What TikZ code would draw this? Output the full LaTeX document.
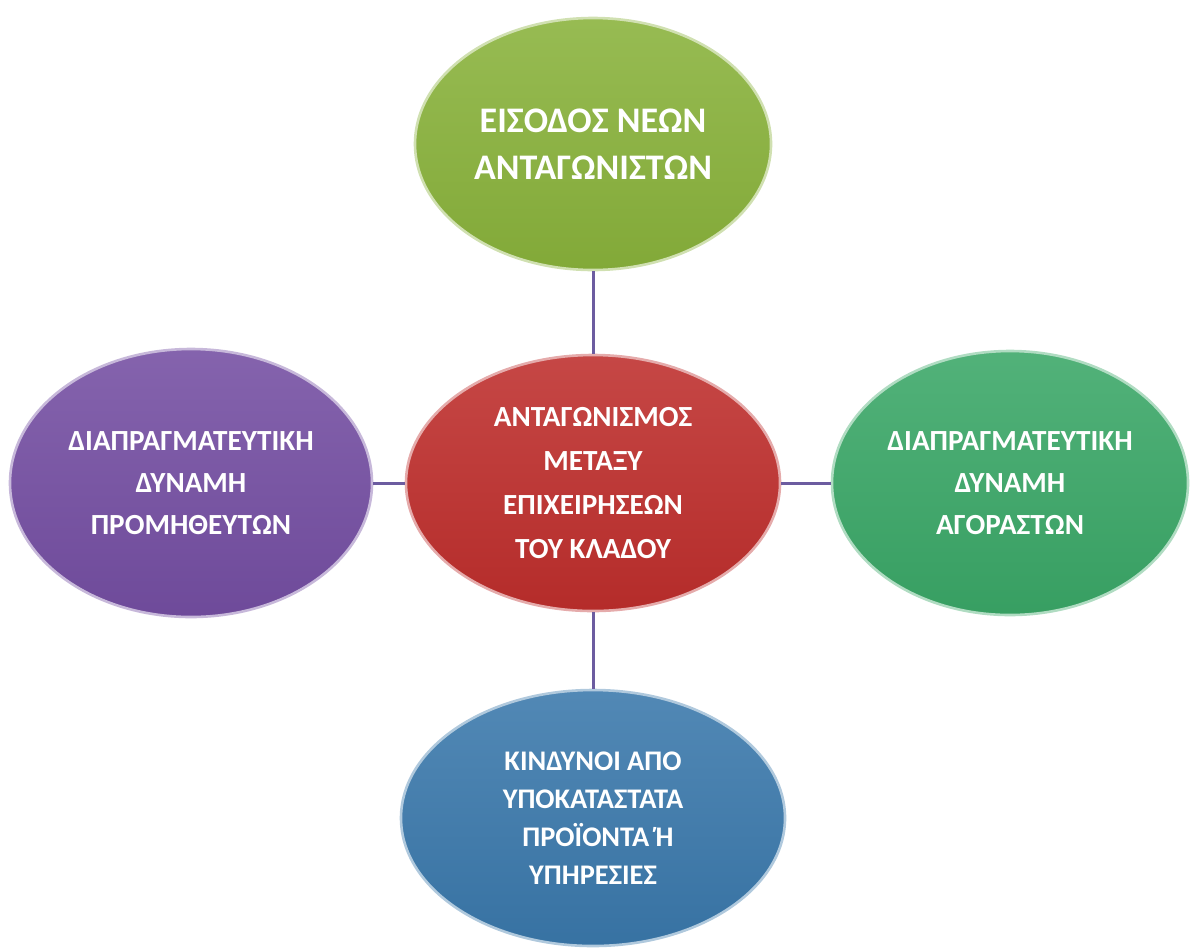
\documentclass[tikz,border=0pt]{standalone}
\usepackage{fontspec}
\setmainfont{Carlito}
\usetikzlibrary{shapes.geometric, positioning}
\definecolor{entrygreen}{HTML}{89B23B}
\definecolor{rivalred}{HTML}{BE2E2C}
\definecolor{supplypurple}{HTML}{744EA2}
\definecolor{buyergreen}{HTML}{3AA767}
\definecolor{substblue}{HTML}{3A78AB}
\definecolor{linkpurple}{HTML}{6C5CA0}
\tikzstyle{force}=[ellipse,shade,text=white,align=center,line width=1.3pt,inner sep=0pt,font=\bfseries\fontsize{14.6}{21}\selectfont]
\tikzstyle{link}=[draw=linkpurple,line width=1.5pt]
\tikzset{paint/.style={top color=#1!88!white,bottom color=#1!95!black,draw=#1!40!white}}

\begin{document}
\begin{tikzpicture}[node distance=170pt]
    \useasboundingbox (0,0) rectangle (596pt,-474.5pt);
    \node[force, paint=rivalred, minimum width=187pt, minimum height=128pt, font=\bfseries\fontsize{14.6}{22}\selectfont] (rivalry) at (296.5pt,-241.5pt) {ΑΝΤΑΓΩΝΙΣΜΟΣ\\ΜΕΤΑΞΥ\\ΕΠΙΧΕΙΡΗΣΕΩΝ\\ΤΟΥ ΚΛΑΔΟΥ};
    \node[force, paint=entrygreen, above of=rivalry, node distance=169.5pt, minimum width=178pt, minimum height=126pt, font=\bfseries\fontsize{18}{23.5}\selectfont] (entrants) {ΕΙΣΟΔΟΣ ΝΕΩΝ\\ΑΝΤΑΓΩΝΙΣΤΩΝ};
    \node[force, paint=supplypurple, left of=rivalry, node distance=201pt, minimum width=181pt, minimum height=134pt] (suppliers) {ΔΙΑΠΡΑΓΜΑΤΕΥΤΙΚΗ\\ΔΥΝΑΜΗ\\ΠΡΟΜΗΘΕΥΤΩΝ};
    \node[force, paint=buyergreen, right of=rivalry, node distance=208.5pt, minimum width=178pt, minimum height=132pt] (buyers) {ΔΙΑΠΡΑΓΜΑΤΕΥΤΙΚΗ\\ΔΥΝΑΜΗ\\ΑΓΟΡΑΣΤΩΝ};
    \node[force, paint=substblue, below of=rivalry, node distance=167.5pt, minimum width=192pt, minimum height=128pt, font=\bfseries\fontsize{14.2}{19}\selectfont] (substitutes) {ΚΙΝΔΥΝΟΙ ΑΠΟ\\ΥΠΟΚΑΤΑΣΤΑΤΑ\\\hspace*{5pt}ΠΡΟΪΟΝΤΑ Ή\\ΥΠΗΡΕΣΙΕΣ};
    \draw[link] (entrants) -- (rivalry);
    \draw[link] (suppliers) -- (rivalry);
    \draw[link] (rivalry) -- (buyers);
    \draw[link] (rivalry) -- (substitutes);
\end{tikzpicture}
\end{document}
